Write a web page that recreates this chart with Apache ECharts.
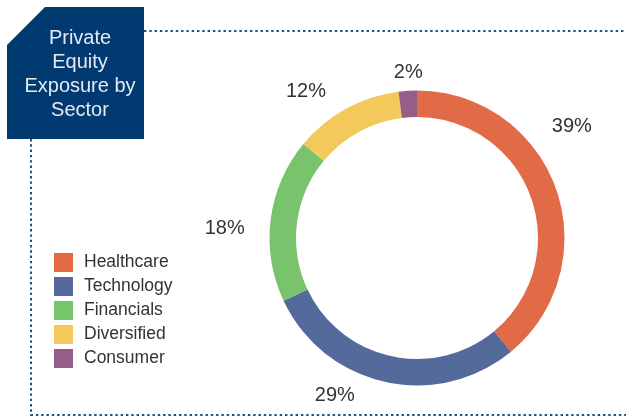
<!DOCTYPE html>
<html>
<head>
<meta charset="utf-8">
<script src="https://cdn.jsdelivr.net/npm/echarts@6/dist/echarts.min.js"></script>
<style>
  html, body { margin: 0; padding: 0; background: #ffffff; }
  #chart { width: 626px; height: 417px; }
</style>
</head>
<body>
<div id="chart"></div>
<script>
// Sector exposure of the private equity book (percent of total)
const sectors = ['Healthcare', 'Technology', 'Financials', 'Diversified', 'Consumer'];
const exposure = [39, 29, 18, 12, 2];
const sectorColors = ['#e06b46', '#536a9b', '#79c36c', '#f3c95b', '#945e88'];
const titleLines = ['Private', 'Equity', 'Exposure by', 'Sector'];

const FONT = '"Liberation Sans", Arial, Helvetica, sans-serif';
const TEXT_COLOR = '#333333';
const FRAME_BLUE = '#1f4f8a';

// nudges that move each percentage label off its slice's centre line
const labelNudge = [
  { dx: -9, dy: -62 },
  { dx: -25, dy: 14 },
  { dx: -21, dy: 9 },
  { dx: -15, dy: -17 },
  { dx: 20, dy: -18 }
];

const pieData = sectors.map((name, i) => ({
  name: name,
  value: exposure[i],
  itemStyle: { color: sectorColors[i] }
}));

const chart = echarts.init(document.getElementById('chart'), null, { renderer: 'canvas' });

chart.setOption({
  animation: false,
  backgroundColor: '#ffffff',
  legend: {
    orient: 'vertical',
    left: 49,
    top: 248,
    icon: 'rect',
    itemWidth: 19,
    itemHeight: 19,
    itemGap: 5,
    selectedMode: false,
    textStyle: {
      fontFamily: FONT,
      fontSize: 17.5,
      color: TEXT_COLOR,
      padding: [0, 0, 0, 6]
    },
    data: sectors
  },
  graphic: [
    // dotted frame running off the title block
    {
      type: 'polyline',
      silent: true,
      shape: { points: [[144, 31], [626, 31]] },
      style: { stroke: FRAME_BLUE, lineWidth: 2, lineDash: [2.4, 2.9], fill: null }
    },
    {
      type: 'polyline',
      silent: true,
      shape: { points: [[31, 139], [31, 415], [626, 415]] },
      style: { stroke: FRAME_BLUE, lineWidth: 2, lineDash: [2.4, 2.9], fill: null }
    },
    // title block with clipped corner
    {
      type: 'polygon',
      silent: true,
      shape: { points: [[7, 45], [45, 7], [144, 7], [144, 139], [7, 139]] },
      style: { fill: '#013a70' }
    },
    {
      type: 'text',
      silent: true,
      x: 80,
      y: 74,
      style: {
        text: titleLines.join('\n'),
        fill: '#e4eaf1',
        fontFamily: FONT,
        fontSize: 20,
        lineHeight: 24,
        align: 'center',
        verticalAlign: 'middle'
      }
    }
  ],
  series: [
    {
      type: 'pie',
      center: [417, 238],
      radius: [121, 147.5],
      startAngle: 90,
      clockwise: true,
      avoidLabelOverlap: false,
      silent: true,
      label: {
        show: true,
        position: 'outside',
        alignTo: 'none',
        formatter: '{c}%',
        fontFamily: FONT,
        fontSize: 20,
        color: TEXT_COLOR
      },
      labelLine: { show: false, length: 0, length2: 0 },
      labelLayout: function (params) {
        const n = labelNudge[params.dataIndex];
        return { dx: n.dx, dy: n.dy };
      },
      data: pieData
    }
  ]
});
</script>
</body>
</html>
